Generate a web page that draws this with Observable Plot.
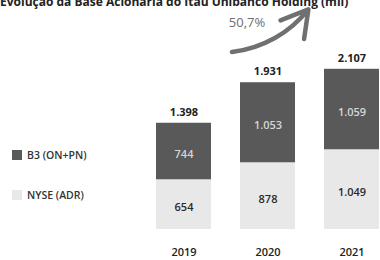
<!DOCTYPE html>
<html><head><meta charset="utf-8">
<script src="https://cdn.jsdelivr.net/npm/d3@7"></script>
<script src="https://cdn.jsdelivr.net/npm/@observablehq/plot@0.6"></script>
<style>
body{margin:0;background:#fff;font-family:"Open Sans",sans-serif;}
#wrap{position:relative;width:380px;height:260px;overflow:hidden;}
#title{position:absolute;left:0;top:-7px;white-space:nowrap;font-size:12px;font-weight:700;color:#222;}
.leg{position:absolute;left:12px;font-size:10.5px;font-weight:600;color:#333;display:flex;align-items:center;}
.sw{width:10px;height:10px;margin-right:5px;}
#plot{position:absolute;left:0;top:0;}
</style></head>
<body><div id="wrap">
<div id="title">Evolução da Base Acionária do Itaú Unibanco Holding (mil)</div>
<div class="leg" style="top:148px"><div class="sw" style="background:#595959"></div>B3 (ON+PN)</div>
<div class="leg" style="top:188px"><div class="sw" style="background:#e8e8e8"></div>NYSE (ADR)</div>
<div id="plot"></div>
</div>
<script>
const years = ["2019", "2020", "2021"];
const nyse = [654, 878, 1049];
const b3 = [744, 1053, 1059];
const totals = [1398, 1931, 2107];
const series = ["NYSE (ADR)", "B3 (ON+PN)"];
const growthLabel = "50,7%";

const fmt = v => d3.format(",")(v).replace(/,/g, ".");
const data = [];
years.forEach((y, i) => {
  data.push({year: y, series: series[0], value: nyse[i]});
  data.push({year: y, series: series[1], value: b3[i]});
});
const tot = years.map((y, i) => ({year: y, value: totals[i]}));

const chart = Plot.plot({
  width: 380, height: 260,
  marginLeft: 0, marginRight: 0, marginTop: 0, marginBottom: 0,
  style: {fontFamily: "'Open Sans', sans-serif", background: "transparent"},
  x: {domain: years, range: [156, 382], paddingInner: 0.34, paddingOuter: 0, align: 0, axis: null},
  y: {domain: [0, 3000], range: [229, 1], axis: null},
  color: {domain: series, range: ["#e8e8e8", "#595959"]},
  marks: [
    Plot.barY(data, {x: "year", y: "value", fill: "series", z: "series", order: series}),
    Plot.text(data, Plot.stackY({x: "year", y: "value", z: "series", order: series,
      text: d => fmt(d.value), dy: 3, fontSize: 11, fontWeight: 600,
      fill: d => d.series === series[1] ? "#d6d6d6" : "#2a2a2a"})),
    Plot.text(tot, {x: "year", y: "value", text: d => fmt(d.value), dy: -11, fontSize: 11, fontWeight: 700, fill: "#222"}),
    Plot.text(years, {x: d => d, y: () => 0, text: d => d, dy: 23, fontSize: 11, fontWeight: 600, fill: "#222"}),
    Plot.arrow([{a: years[0], b: years[1], y1: 2330, y2: 2960}], {x1: "a", x2: "b", y1: "y1", y2: "y2", dx: 44, insetStart: 4, insetEnd: 6, bend: -25, stroke: "#707070", strokeWidth: 4.5, headLength: 10}),
    Plot.text([growthLabel], {x: () => years[0], y: () => 2720, text: d => d, dx: 63, fontSize: 13, fill: "#6e6e6e"})
  ]
});
document.getElementById("plot").appendChild(chart);
</script>
</body></html>
